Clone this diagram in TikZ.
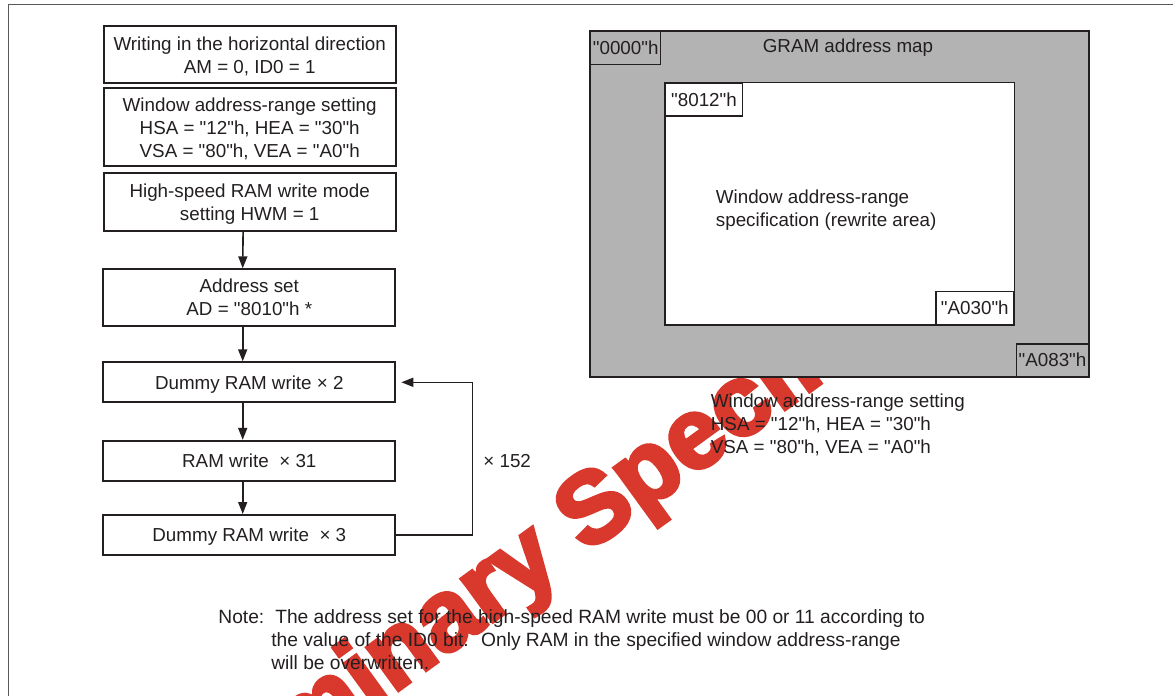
\documentclass[tikz,border=0pt]{standalone}
\usepackage{fontspec}
\setmainfont{Liberation Sans}[Ligatures=TeXOff]
\newfontfamily\stampfont{Liberation Sans Bold}[FakeBold=4]
\usetikzlibrary{arrows.meta}
\definecolor{inkdark}{RGB}{35,31,32}
\definecolor{mapgray}{RGB}{179,179,179}
\definecolor{stampred}{RGB}{217,56,45}
\begin{document}
\begin{tikzpicture}
[x=0.5pt,y=-0.5pt,
every node/.style={text=inkdark,font=\fontsize{9.4}{11.5}\selectfont},
flow box/.style={draw=inkdark,line width=1pt,minimum width=146pt,align=center,inner sep=0pt,text depth=0pt},
flow arrow/.style={draw=inkdark,line width=0.8pt,-{Triangle[length=6pt,width=4.5pt]}},
addr tag/.style={draw=inkdark,line width=0.7pt,minimum width=#1,minimum height=16.4pt,inner sep=0pt},
plain text/.style={inner sep=0pt,align=left},
frame line/.style={draw=black!65,line width=0.5pt}]
\useasboundingbox (0,0) rectangle (1173,696);
% page frame
\draw[frame line] (8,696) -- (8,4) -- (1173,4);
% watermark
\begin{scope}
\clip (0,0) rectangle (1089,696);
\node[rotate=36,anchor=base,text=stampred,font=\fontsize{50}{56}\stampfont] (stamp) at (606.4,539) {Preliminary Specification};
\end{scope}
% flow chart
\node[flow box,minimum height=28.6pt] (horiz) at (249.7,54.7) {Writing in the horizontal direction\\AM = 0, ID0 = 1};
\node[flow box,minimum height=38.9pt] (window) at (249.7,127.2) {Window address-range setting\\HSA = "12"h, HEA = "30"h\\VSA = "80"h, VEA = "A0"h};
\node[flow box,minimum height=28.7pt] (hwm) at (249.7,202) {High-speed RAM write mode\\setting HWM = 1};
\node[flow box,minimum height=28.2pt] (addr) at (249.3,297.5) {Address set\\AD = "8010"h *};
\node[flow box,minimum height=20pt] (dummya) at (249.3,382.3) {Dummy RAM write × 2};
\node[flow box,minimum height=20pt] (ram) at (249.3,460.8) {RAM write~ × 31};
\node[flow box,minimum height=20pt] (dummyb) at (249.3,535) {Dummy RAM write~ × 3};
\foreach \from/\to in {hwm/addr,addr/dummya,dummya/ram,ram/dummyb}
\draw[flow arrow] ([xshift=-3.3pt]\from.south) -- ([xshift=-3.3pt]\to.north);
\coordinate (loopturn) at (472.3,535);
\draw[flow arrow] (dummyb.east) -- (loopturn) |- ([xshift=2.5pt]dummya.east);
\node[plain text,anchor=west] (repeat) at (483,461) {× 152};
% GRAM map
\draw[draw=inkdark,fill=mapgray,line width=0.9pt] (590,30.7) rectangle (1089,377.3);
\draw[draw=inkdark,fill=white,line width=0.8pt] (665,82.3) rectangle (1014.3,325);
\node[addr tag=35pt,fill=mapgray,anchor=north west] (tagfirst) at (590,30.7) {"0000"h};
\node[addr tag=38.3pt,fill=white,anchor=north west] (tagwinstart) at (665,82.3) {"8012"h};
\node[addr tag=38.8pt,fill=white,anchor=south east] (tagwinend) at (1014.3,325) {"A030"h};
\node[addr tag=35.8pt,fill=mapgray,anchor=south east] (taglast) at (1089,377.3) {"A083"h};
\node[plain text] (maptitle) at (848,48) {GRAM address map};
\node[plain text,anchor=west] (rewrite) at (715.5,210.5) {Window address-range\\specification (rewrite area)};
\node[plain text,anchor=west] (rangeset) at (710.5,425) {Window address-range setting\\HSA = "12"h, HEA = "30"h\\VSA = "80"h, VEA = "A0"h};
% note
\node[plain text,anchor=west,font=\fontsize{9.6}{11.5}\selectfont] (note) at (218,642) {\begin{tabular}{@{}l@{\hspace{3.5pt}}l@{}}Note: & \hspace{2pt}The address set for the high-speed RAM write must be 00 or 11 according to\\
 & the value of the ID0 bit.~ Only RAM in the specified window address-range\\
 & will be overwritten.\end{tabular}};
\end{tikzpicture}
\end{document}
